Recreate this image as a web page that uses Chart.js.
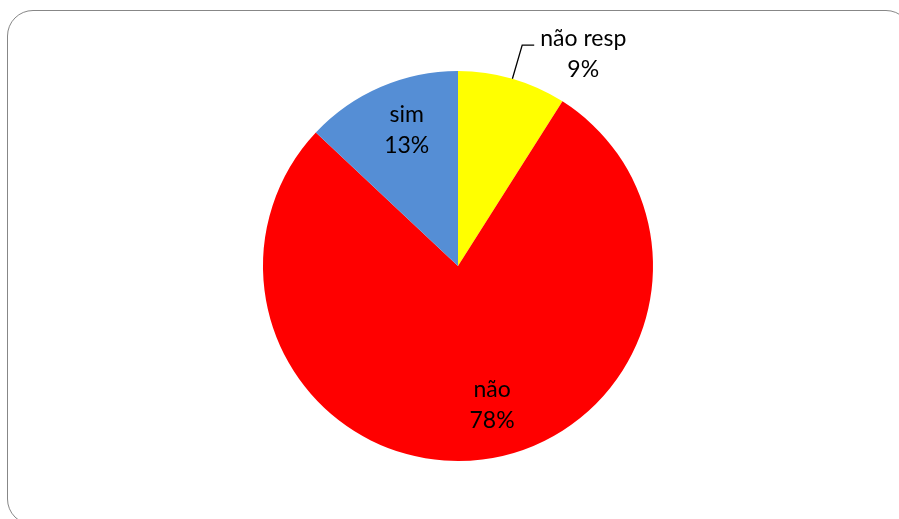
<!DOCTYPE html>
<html>
<head>
<meta charset="utf-8">
<script src="https://cdn.jsdelivr.net/npm/chart.js@4/dist/chart.umd.min.js"></script>
<style>
  html, body { margin: 0; padding: 0; background: #fff; overflow: hidden; }
  #wrap { position: relative; width: 899px; height: 519px; overflow: hidden; }
  #frame {
    position: absolute; left: 7px; top: 10px; width: 905px; height: 515px;
    border: 1.5px solid #878787; border-radius: 26px; box-sizing: border-box;
  }
  #cv { position: absolute; left: 0; top: 0; }
</style>
</head>
<body>
<div id="wrap">
  <div id="frame"></div>
  <canvas id="cv" width="899" height="519"></canvas>
</div>
<script>
// Respostas: não resp / não / sim (percentagens)
const categories = ['não resp', 'não', 'sim'];
const values = [9, 78, 13];
const sliceColors = ['#FFFF00', '#FF0000', '#558ED5'];

// Rótulos de dados: nome + percentagem, dentro ou fora da fatia
const labelOpts = {
  font: '23px Lato, "Liberation Sans", sans-serif',
  color: '#000',
  lineHeight: 31,
  place: [
    { outside: true, gap: 6 },
    { outside: false, r: 0.74, dx: 16, dy: -5 },
    { outside: false, r: 0.74, dx: 6, dy: -4 }
  ]
};

const pieLabels = {
  id: 'pieLabels',
  afterDatasetsDraw(chart) {
    const ctx = chart.ctx;
    const meta = chart.getDatasetMeta(0);
    const total = values.reduce((a, b) => a + b, 0);
    ctx.save();
    ctx.font = labelOpts.font;
    ctx.fillStyle = labelOpts.color;
    ctx.textBaseline = 'alphabetic';
    ctx.textAlign = 'center';
    meta.data.forEach((arc, i) => {
      const p = labelOpts.place[i];
      const mid = (arc.startAngle + arc.endAngle) / 2;
      const pct = Math.round(values[i] / total * 100) + '%';
      const lines = [categories[i], pct];
      const fs = 23;
      if (!p.outside) {
        const rr = arc.outerRadius * p.r;
        const cx = arc.x + Math.cos(mid) * rr + p.dx;
        const cy = arc.y + Math.sin(mid) * rr + p.dy;
        lines.forEach((t, k) => {
          const by = cy + (k - (lines.length - 1) / 2) * labelOpts.lineHeight + 0.35 * fs;
          ctx.fillText(t, cx, by);
        });
      } else {
        const x0 = arc.x + Math.cos(mid) * arc.outerRadius;
        const y0 = arc.y + Math.sin(mid) * arc.outerRadius;
        const ex = arc.x + Math.cos(mid) * arc.outerRadius * 1.18;
        const ey = arc.y + Math.sin(mid) * arc.outerRadius * 1.18;
        const hx = ex + 12;
        ctx.strokeStyle = '#000';
        ctx.lineWidth = 1.3;
        ctx.beginPath();
        ctx.moveTo(x0, y0);
        ctx.lineTo(ex, ey);
        ctx.lineTo(hx, ey);
        ctx.stroke();
        const w = Math.max(...lines.map(t => ctx.measureText(t).width));
        const cx = hx + p.gap + w / 2;
        lines.forEach((t, k) => {
          ctx.fillText(t, cx, ey + 1 + k * labelOpts.lineHeight);
        });
      }
    });
    ctx.restore();
  }
};

new Chart(document.getElementById('cv'), {
  type: 'pie',
  data: {
    labels: categories,
    datasets: [{
      data: values,
      backgroundColor: sliceColors,
      borderWidth: 0
    }]
  },
  options: {
    responsive: false,
    animation: false,
    layout: { padding: { left: 263, right: 246, top: 71, bottom: 58 } },
    plugins: {
      legend: { display: false },
      tooltip: { enabled: false }
    }
  },
  plugins: [pieLabels]
});
</script>
</body>
</html>
